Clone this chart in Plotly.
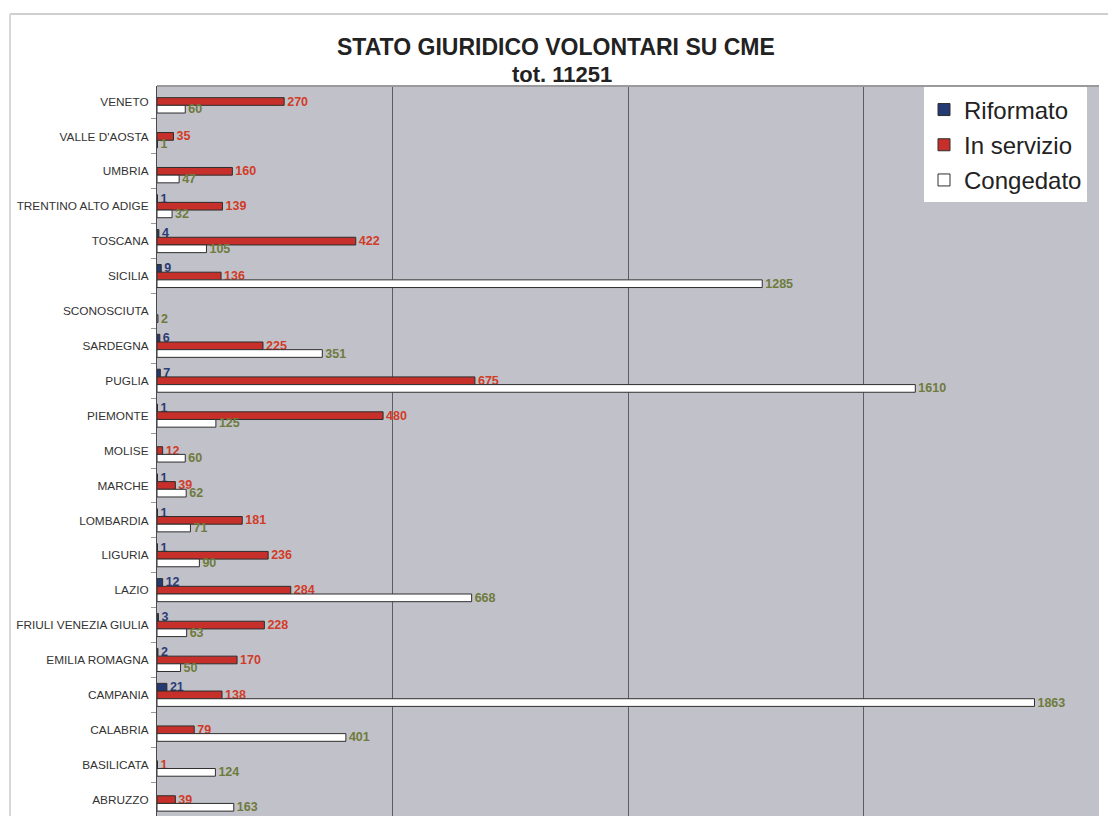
import plotly.graph_objects as go

# Regions, listed top to bottom as drawn
regioni = [
    "VENETO", "VALLE D'AOSTA", "UMBRIA", "TRENTINO ALTO ADIGE", "TOSCANA",
    "SICILIA", "SCONOSCIUTA", "SARDEGNA", "PUGLIA", "PIEMONTE", "MOLISE",
    "MARCHE", "LOMBARDIA", "LIGURIA", "LAZIO", "FRIULI VENEZIA GIULIA",
    "EMILIA ROMAGNA", "CAMPANIA", "CALABRIA", "BASILICATA", "ABRUZZO",
]

# Volunteers by legal status (None = no volunteers in that status)
riformato = [None, None, None, 1, 4, 9, None, 6, 7, 1, None,
             1, 1, 1, 12, 3, 2, 21, None, None, None]
in_servizio = [270, 35, 160, 139, 422, 136, None, 225, 675, 480, 12,
               39, 181, 236, 284, 228, 170, 138, 79, 1, 39]
congedato = [60, 1, 47, 32, 105, 1285, 2, 351, 1610, 125, 60,
             62, 71, 90, 668, 63, 50, 1863, 401, 124, 163]

titolo = "STATO GIURIDICO VOLONTARI SU CME"
sottotitolo = "tot. 11251"

series = [
    ("Riformato", riformato, "#243a72", "#2a3d74"),
    ("In servizio", in_servizio, "#c7302a", "#d13b27"),
    ("Congedato", congedato, "#ffffff", "#6e7b3c"),
]

fig = go.Figure()
for i, (name, vals, fill, label_col) in enumerate(series):
    fig.add_trace(go.Bar(
        y=regioni, x=vals, name=name, orientation="h",
        marker=dict(color=fill, line=dict(color="#2e2e2e", width=1)),
        texttemplate="<b>%{x}</b>", textposition="outside",
        textfont=dict(family="Arial", size=12.5, color=label_col),
        constraintext="none", cliponaxis=False,
        legendgroup=f"g{i}",
    ))

W, H = 1108, 816
L, R, T, B = 157, 9, 86, 0
pw, ph = W - L - R, H - T - B


def px_x(px):
    return (px - L) / pw


def px_y(py):
    return (H - B - py) / ph


fig.update_layout(
    width=W, height=H,
    margin=dict(l=L, r=R, t=T, b=B),
    paper_bgcolor="white",
    plot_bgcolor="#c1c1c9",
    barmode="group", bargap=0.34, bargroupgap=0,
    font=dict(family="Arial", color="#333333"),
    showlegend=True,
    legend=dict(
        x=px_x(924), y=0.998, xanchor="left", yanchor="top",
        bgcolor="white", borderwidth=0,
        font=dict(family="Arial", size=24, color="#222222"),
        tracegroupgap=1, itemwidth=30,
    ),
    xaxis=dict(
        range=[0, 2000], dtick=500, showticklabels=False,
        showgrid=True, gridcolor="#5e5e62", gridwidth=1,
        zeroline=False, showline=False,
    ),
    yaxis=dict(
        type="category", categoryorder="array", categoryarray=regioni,
        range=[20.47, -0.444],
        tickfont=dict(family="Arial", size=11.8, color="#333333"),
        ticks="outside", tickson="boundaries", ticklen=5, tickcolor="#9a9a9a",
        ticklabelstandoff=5,
        showline=True, linecolor="#4a4a4a", linewidth=1,
        showgrid=False, zeroline=False,
    ),
    annotations=[
        dict(text=f"<b>{titolo}</b>", xref="paper", yref="paper",
             x=px_x(556), y=px_y(47), xanchor="center", yanchor="middle",
             showarrow=False, font=dict(family="Arial", size=23, color="#222222")),
        dict(text=f"<b>{sottotitolo}</b>", xref="paper", yref="paper",
             x=px_x(562), y=px_y(75), xanchor="center", yanchor="middle",
             showarrow=False, font=dict(family="Arial", size=22, color="#222222")),
    ],
    shapes=[
        # outer chart frame
        dict(type="line", xref="paper", yref="paper",
             x0=px_x(10), x1=px_x(1108), y0=px_y(14), y1=px_y(14),
             line=dict(color="#cfcfcf", width=2)),
        dict(type="line", xref="paper", yref="paper",
             x0=px_x(10), x1=px_x(10), y0=px_y(14), y1=px_y(816),
             line=dict(color="#d8d8d8", width=2)),
        # plot area top border
        dict(type="line", xref="paper", yref="paper",
             x0=0, x1=1, y0=1, y1=1, line=dict(color="#9a9a9a", width=2)),
    ],
)

fig.write_html("out.html")
